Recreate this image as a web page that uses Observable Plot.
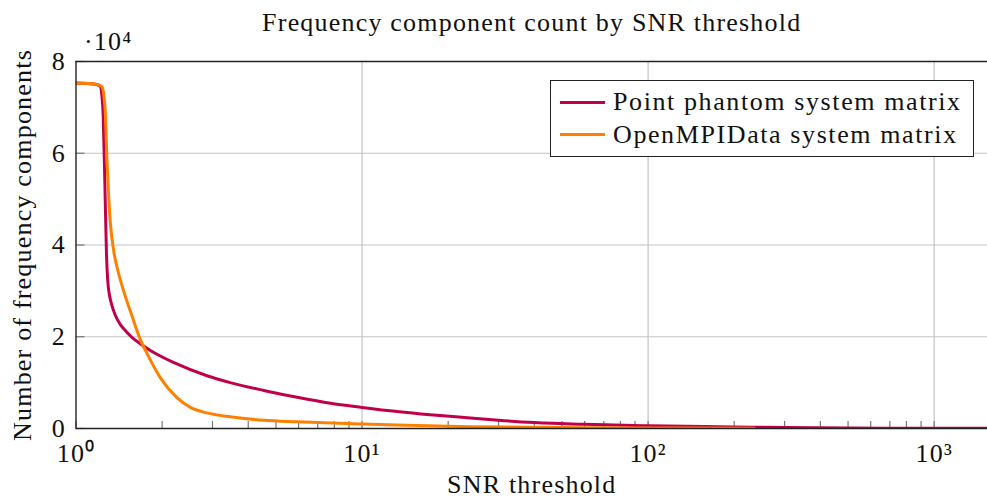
<!DOCTYPE html>
<html>
<head>
<meta charset="utf-8">
<script src="https://cdn.jsdelivr.net/npm/d3@7"></script>
<script src="https://cdn.jsdelivr.net/npm/@observablehq/plot@0.6"></script>
<style>
  html, body { margin: 0; padding: 0; background: #fff; }
  #wrap { position: relative; width: 987px; height: 499px; overflow: hidden; font-family: 'Liberation Serif', serif; }
  #legend { position: absolute; left: 550px; top: 80px; width: 424px; height: 77px; box-sizing: border-box;
            border: 1.3px solid #222; background: #fff; font-size: 26px; letter-spacing: 1.6px; color: #111; }
  .row { position: absolute; left: 9px; height: 30px; display: flex; align-items: center; white-space: nowrap; }
  .sw { width: 45px; height: 3px; margin-right: 8px; }
</style>
</head>
<body>
<div id="wrap">
  <div id="chart"></div>
  <div id="legend"></div>
</div>
<script>
// SNR threshold values and component counts (×10^4)
const snrPoint = [1.0, 1.1, 1.18, 1.216, 1.232, 1.245, 1.262, 1.278, 1.292, 1.31, 1.336, 1.37, 1.428, 1.50, 1.58, 1.668, 1.82, 1.97, 2.19, 2.87, 3.46, 4.53, 5.93, 7.75, 10, 13.25, 17.3, 23.9, 30, 40, 60, 100, 200, 300, 500, 1000, 1536];
const countPoint = [7.53, 7.52, 7.50, 7.46, 7.25, 6.8, 5.3, 3.8, 3.2, 2.9, 2.68, 2.48, 2.27, 2.11, 1.97, 1.86, 1.70, 1.58, 1.44, 1.15, 1.00, 0.83, 0.68, 0.55, 0.46, 0.37, 0.30, 0.23, 0.18, 0.13, 0.09, 0.06, 0.035, 0.02, 0.01, 0.005, 0.003];

const snrOpen = [1.0, 1.1, 1.2, 1.233, 1.252, 1.266, 1.283, 1.30, 1.318, 1.354, 1.40, 1.467, 1.57, 1.668, 1.80, 1.97, 2.25, 2.51, 2.87, 3.46, 4.53, 5.93, 10, 13.25, 23.9, 50, 100, 235];
const countOpen = [7.53, 7.52, 7.49, 7.45, 7.25, 6.9, 5.85, 5.1, 4.5, 3.88, 3.45, 3.0, 2.45, 1.98, 1.55, 1.11, 0.68, 0.46, 0.34, 0.255, 0.18, 0.146, 0.097, 0.075, 0.04, 0.022, 0.013, 0.006];

const seriesNames = ["Point phantom system matrix", "OpenMPIData system matrix"];
const seriesColors = ["#c0004a", "#ff8000"];

const xMajorTicks = [1, 10, 100, 1000];
const xTickLabels = ["10\u2070", "10\u00b9", "10\u00b2", "10\u00b3"];
const yTicks = [0, 2, 4, 6, 8];
const xAllTicks = [];
for (const dec of [1, 10, 100, 1000]) for (let k = 1; k <= 9; k++) { const v = dec * k; if (v <= 1536) xAllTicks.push(v); }

const titleText = "Frequency component count by SNR threshold";
const xLabel = "SNR threshold";
const yLabel = "Number of frequency components";
const yExponent = "\u00b710\u2074";

const pointData = snrPoint.map((s, i) => ({snr: s, count: countPoint[i]}));
const openData = snrOpen.map((s, i) => ({snr: s, count: countOpen[i]}));
const xTickData = xMajorTicks.map((v, i) => ({v, label: xTickLabels[i]}));

const font = 26;
const chart = Plot.plot({
  width: 987, height: 499,
  marginLeft: 75.5, marginRight: 0, marginTop: 61, marginBottom: 71,
  x: {type: "log", domain: [1, 1536], axis: null},
  y: {domain: [0, 8], axis: null},
  style: {fontFamily: "'Liberation Serif', serif", fontSize: font + "px", color: "#111", background: "#fff", letterSpacing: "1.2px"},
  marks: [
    Plot.gridX(xMajorTicks, {stroke: "#c4c4c4", strokeOpacity: 1, strokeWidth: 1.2}),
    Plot.gridY(yTicks, {stroke: "#c4c4c4", strokeOpacity: 1, strokeWidth: 1.2}),
    Plot.axisX(xAllTicks, {anchor: "bottom", tickSize: 7, dy: -7, tickFormat: () => "", stroke: "#777", strokeWidth: 1.2, label: null}),
    Plot.axisY(yTicks, {anchor: "left", tickSize: 9, dx: 9, tickFormat: () => "", stroke: "#777", strokeWidth: 1.2, label: null}),
    Plot.text(xTickData, {x: "v", text: "label", frameAnchor: "bottom", lineAnchor: "middle", textAnchor: "middle", dy: 25, fontSize: font}),
    Plot.axisY(yTicks, {anchor: "left", tickSize: 0, tickPadding: 10, fontSize: font, label: null}),
    Plot.line(pointData, {x: "snr", y: "count", stroke: seriesColors[0], strokeWidth: 3, curve: "monotone-x", clip: true}),
    Plot.line(openData, {x: "snr", y: "count", stroke: seriesColors[1], strokeWidth: 3, curve: "monotone-x", clip: true}),
    Plot.ruleY([0], {stroke: "#222", strokeWidth: 1.3}),
    Plot.ruleY([8], {stroke: "#222", strokeWidth: 1.3}),
    Plot.ruleX([1], {stroke: "#222", strokeWidth: 1.3}),
    Plot.text([titleText], {frameAnchor: "top", lineAnchor: "middle", textAnchor: "middle", dy: -39, fontSize: font}),
    Plot.text([xLabel], {frameAnchor: "bottom", lineAnchor: "middle", textAnchor: "middle", dy: 56, fontSize: font}),
    Plot.text([yLabel], {frameAnchor: "left", lineAnchor: "middle", textAnchor: "middle", dx: -53, rotate: -90, fontSize: font}),
    Plot.text([yExponent], {frameAnchor: "top-left", lineAnchor: "middle", textAnchor: "start", dx: 8, dy: -20, fontSize: font})
  ]
});
document.getElementById("chart").appendChild(chart);

const legend = document.getElementById("legend");
seriesNames.forEach((name, i) => {
  const row = document.createElement("div");
  row.className = "row";
  row.style.top = (6 + i * 32.6) + "px";
  const sw = document.createElement("div");
  sw.className = "sw";
  sw.style.background = seriesColors[i];
  const t = document.createElement("span");
  t.textContent = name;
  row.appendChild(sw); row.appendChild(t);
  legend.appendChild(row);
});
</script>
</body>
</html>
